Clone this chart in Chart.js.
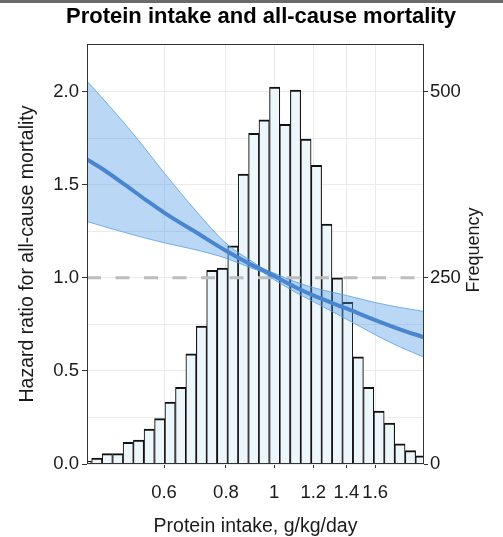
<!DOCTYPE html>
<html>
<head>
<meta charset="utf-8">
<script src="https://cdn.jsdelivr.net/npm/chart.js@4.4.1/dist/chart.umd.min.js"></script>
<style>
  html, body { margin: 0; padding: 0; background: #fff; }
  #wrap { position: relative; width: 503px; height: 537px; }
  #strip { position: absolute; left: 0; top: 0; width: 503px; height: 3px; background: #6b6b6b; }
</style>
</head>
<body>
<div id="wrap">
  <canvas id="chart" width="503" height="537"></canvas>
  <div id="strip"></div>
</div>
<script>
  // histogram of protein intake (bin centres, g/kg/day) and counts
  const binCenters = [0.418, 0.439, 0.461, 0.484, 0.508, 0.533, 0.560, 0.588, 0.617, 0.648, 0.680,
    0.714, 0.749, 0.787, 0.826, 0.867, 0.910, 0.955, 1.003, 1.052, 1.105, 1.160, 1.218, 1.278,
    1.342, 1.408, 1.479, 1.552, 1.629, 1.710, 1.795, 1.885, 1.978];
  const frequency = [4, 8, 14, 14, 29, 32, 47, 61, 83, 103, 148,
    185, 260, 263, 293, 389, 444, 462, 506, 456, 502, 436, 401, 322,
    250, 217, 144, 103, 71, 55, 27, 18, 11];

  // hazard ratio curve with 95% band
  const curveX = [0.4195, 0.45, 0.5, 0.55, 0.6, 0.7, 0.8, 0.9, 0.95, 1.0, 1.1, 1.2, 1.4, 1.6, 1.8, 2.007];
  const hazard = [1.635, 1.585, 1.50, 1.42, 1.35, 1.24, 1.145, 1.07, 1.04, 1.01, 0.952, 0.905, 0.835, 0.773, 0.722, 0.68];
  const upperCI = [2.056, 1.966, 1.827, 1.692, 1.564, 1.351, 1.185, 1.09, 1.05, 1.025, 0.98, 0.947, 0.905, 0.867, 0.84, 0.819];
  const lowerCI = [1.302, 1.278, 1.243, 1.213, 1.188, 1.148, 1.105, 1.052, 1.028, 0.99, 0.925, 0.872, 0.778, 0.694, 0.627, 0.574];
  const referenceHR = 1;

  const xTicks = [0.6, 0.8, 1, 1.2, 1.4, 1.6];
  const xTickLabels = ["0.6", "0.8", "1", "1.2", "1.4", "1.6"];
  const hrTicks = [0, 0.5, 1, 1.5, 2];
  const hrTickLabels = ["0.0", "0.5", "1.0", "1.5", "2.0"];
  const hrMinorTicks = [0.25, 0.75, 1.25, 1.75, 2.25];
  const freqTicks = [0, 250, 500];
  const freqTickLabels = ["0", "250", "500"];

  const X_MIN = 0.4195;
  const X_MAX = 2.007;
  const HR_MAX = 2.255;
  const FREQ_PER_HR = 250;

  const TEXT = "#1a1a1a";
  const AXIS = "#333333";
  const GRID = "#ebebeb";
  const FONT = '"Liberation Sans", Arial, Helvetica, sans-serif';

  Chart.defaults.font.family = FONT;
  Chart.defaults.font.size = 18.5;
  Chart.defaults.color = TEXT;

  function xy(xs, ys) {
    return xs.map((x, i) => ({ x, y: ys[i] }));
  }

  const extraText = {
    id: "extraText",
    afterDraw(chart) {
      const { ctx, chartArea } = chart;
      ctx.save();
      ctx.strokeStyle = AXIS;
      ctx.lineWidth = 1;
      ctx.strokeRect(chartArea.left + 0.5, chartArea.top + 0.5,
        chartArea.right - chartArea.left - 1, chartArea.bottom - chartArea.top - 1);

      ctx.fillStyle = "#000";
      ctx.textAlign = "center";
      ctx.textBaseline = "alphabetic";
      ctx.font = "bold 22px " + FONT;
      ctx.fillText("Protein intake and all-cause mortality", 261, 23);

      ctx.fillStyle = TEXT;
      ctx.font = "18px " + FONT;
      ctx.translate(479, 250);
      ctx.rotate(-Math.PI / 2);
      ctx.fillText("Frequency", 0, 0);
      ctx.restore();
    }
  };

  const curveStyle = { type: "line", yAxisID: "y", pointRadius: 0, cubicInterpolationMode: "monotone" };

  new Chart(document.getElementById("chart"), {
    type: "bar",
    data: {
      datasets: [
        {
          ...curveStyle,
          label: "Hazard ratio",
          data: xy(curveX, hazard),
          borderColor: "#4a86cf",
          borderWidth: 4,
          fill: false,
          order: 0
        },
        {
          ...curveStyle,
          label: "Upper",
          data: xy(curveX, upperCI),
          borderColor: "rgba(90,160,230,0.8)",
          borderWidth: 1,
          fill: false,
          order: 1
        },
        {
          ...curveStyle,
          label: "Lower",
          data: xy(curveX, lowerCI),
          borderColor: "rgba(90,160,230,0.8)",
          borderWidth: 1,
          fill: { target: 1 },
          backgroundColor: "rgba(74,150,230,0.38)",
          order: 1
        },
        {
          type: "line",
          label: "Reference",
          data: [{ x: X_MIN, y: referenceHR }, { x: X_MAX, y: referenceHR }],
          yAxisID: "y",
          borderColor: "#bdbdbd",
          borderWidth: 3,
          borderDash: [14, 14.5],
          pointRadius: 0,
          fill: false,
          order: 2
        },
        {
          type: "bar",
          label: "Frequency",
          data: xy(binCenters, frequency),
          yAxisID: "y1",
          backgroundColor: "#edf6fb",
          borderColor: "#111111",
          borderWidth: { top: 2, left: 1.1, right: 1.1, bottom: 0 },
          borderSkipped: false,
          barPercentage: 1,
          categoryPercentage: 1,
          order: 3
        }
      ]
    },
    options: {
      responsive: false,
      animation: false,
      layout: { padding: { top: 44, left: 0, right: 0, bottom: 0 } },
      plugins: { legend: { display: false }, tooltip: { enabled: false }, title: { display: false } },
      scales: {
        x: {
          type: "logarithmic",
          min: X_MIN,
          max: X_MAX,
          offset: false,
          afterBuildTicks: (s) => { s.ticks = xTicks.map((v) => ({ value: v })); },
          afterFit: (s) => { s.height = 73; },
          ticks: {
            autoSkip: false, maxRotation: 0, minRotation: 0, padding: 14, color: TEXT,
            callback: (v) => xTickLabels[xTicks.indexOf(v)] ?? ""
          },
          grid: { offset: false, color: GRID, lineWidth: 1, tickLength: 4, tickColor: AXIS },
          border: { display: false },
          title: {
            display: true, text: "Protein intake, g/kg/day", color: TEXT,
            font: { size: 19.5 }, padding: { top: 0, bottom: -1.5 }
          }
        },
        y: {
          position: "left",
          min: 0,
          max: HR_MAX,
          afterBuildTicks: (s) => {
            s.ticks = [...hrTicks, ...hrMinorTicks].sort((a, b) => a - b).map((v) => ({ value: v }));
          },
          afterFit: (s) => { s.width = 87; },
          ticks: {
            padding: 3, color: TEXT,
            callback: (v) => { const i = hrTicks.indexOf(v); return i >= 0 ? hrTickLabels[i] : ""; }
          },
          grid: {
            color: GRID, lineWidth: 1, tickLength: 5,
            tickColor: (c) => (hrTicks.includes(c.tick && c.tick.value) ? AXIS : "rgba(0,0,0,0)")
          },
          border: { display: false },
          title: {
            display: true, text: "Hazard ratio for all-cause mortality", color: TEXT,
            font: { size: 19.5 }, padding: { top: 16, bottom: 0 }
          }
        },
        y1: {
          position: "right",
          min: 0,
          max: HR_MAX * FREQ_PER_HR,
          afterBuildTicks: (s) => { s.ticks = freqTicks.map((v) => ({ value: v })); },
          afterFit: (s) => { s.width = 79; },
          ticks: {
            padding: 2, color: TEXT,
            callback: (v) => { const i = freqTicks.indexOf(v); return i >= 0 ? freqTickLabels[i] : ""; }
          },
          grid: { drawOnChartArea: false, tickLength: 4, tickColor: AXIS },
          border: { display: false }
        }
      }
    },
    plugins: [extraText]
  });
</script>
</body>
</html>
